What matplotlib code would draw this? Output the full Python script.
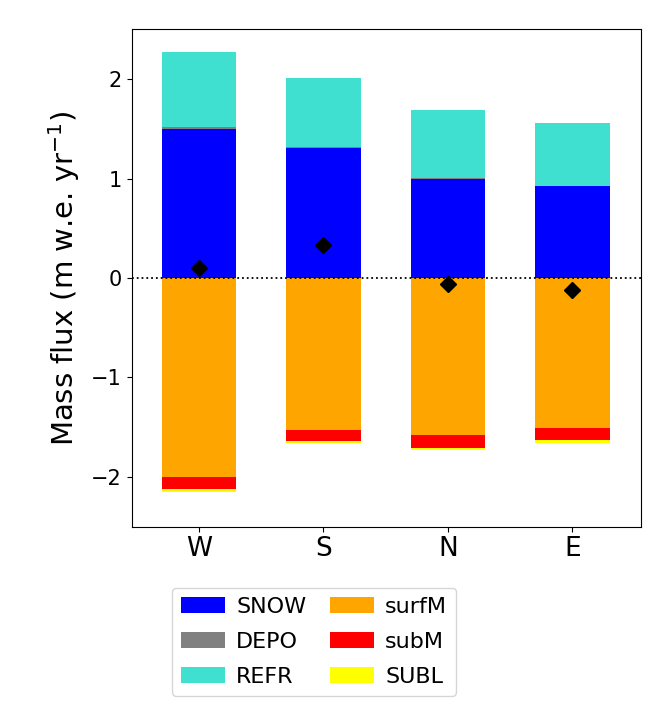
import matplotlib
matplotlib.use("Agg")
import matplotlib.pyplot as plt
import numpy as np

regions = ["W", "S", "N", "E"]
snow = [1.50, 1.31, 1.00, 0.92]
depo = [0.02, 0.01, 0.005, 0.005]
refr = [0.75, 0.69, 0.685, 0.63]
surfM = [-2.00, -1.53, -1.58, -1.51]
subM = [-0.12, -0.11, -0.13, -0.12]
subl = [-0.03, -0.02, -0.02, -0.025]
net = [0.10, 0.33, -0.06, -0.12]

fig = plt.figure(figsize=(6.57, 7.12), dpi=100)
ax = fig.add_axes([0.2005, 0.2603, 0.775, 0.6985])

x = np.arange(len(regions))
w = 0.6
snow_a = np.array(snow); depo_a = np.array(depo)
surf_a = np.array(surfM); subM_a = np.array(subM)

ax.bar(x, snow_a, w, color="blue", label="SNOW")
ax.bar(x, depo_a, w, bottom=snow_a, color="grey", label="DEPO")
ax.bar(x, refr, w, bottom=snow_a + depo_a, color="turquoise", label="REFR")
ax.bar(x, surf_a, w, color="orange", label="surfM")
ax.bar(x, subM_a, w, bottom=surf_a, color="red", label="subM")
ax.bar(x, subl, w, bottom=surf_a + subM_a, color="yellow", label="SUBL")

ax.axhline(0, color="black", linestyle=":", linewidth=1.3)
ax.plot(x, net, linestyle="none", marker="D", color="black", markersize=8)

ax.set_xlim(-0.54, 3.55)
ax.set_ylim(-2.5, 2.5)
ax.set_yticks([-2, -1, 0, 1, 2])
ax.set_xticks(x)
ax.set_xticklabels(regions, fontsize=19)
ax.tick_params(axis="y", labelsize=15)
ax.set_ylabel("Mass flux (m w.e. yr$^{-1}$)", fontsize=21, labelpad=7)

handles, labels = ax.get_legend_handles_labels()
fig.legend(handles, labels, ncol=2, fontsize=16,
           loc="upper left", bbox_to_anchor=(171.7 / 657, 1 - 588 / 712),
           borderaxespad=0, handletextpad=0.5, columnspacing=1.05,
           labelspacing=0.67)

fig.savefig("out.png", dpi=100)
